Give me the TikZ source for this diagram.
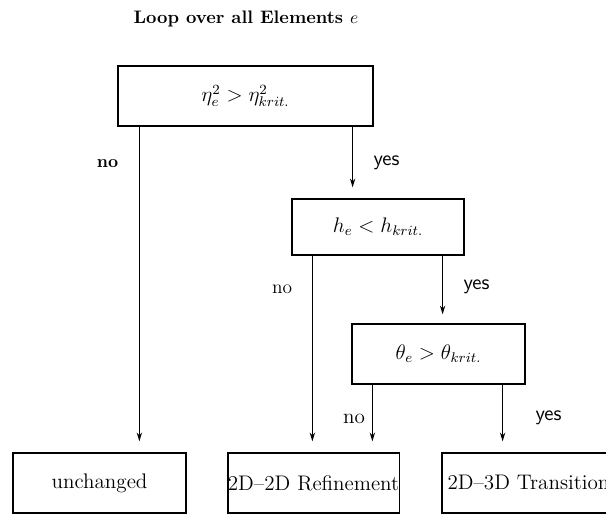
\documentclass[tikz,border=0pt]{standalone}
\usepackage{tikz}
\usetikzlibrary{arrows.meta,positioning}

\begin{document}
\begin{tikzpicture}[
  every node/.style={font=\fontsize{12}{14}\selectfont},
  test/.style={draw,line width=0.7pt,inner sep=0pt,minimum width=3.46cm,minimum height=1.2cm},
  result/.style={draw,line width=0.7pt,inner sep=0pt,minimum width=3.46cm,minimum height=1.2cm},
  arr/.style={line width=0.7pt,-{Stealth[length=5pt,width=3pt]},shorten >=0.22cm},
  lbl/.style={inner sep=0pt}
]
\useasboundingbox (0,0) rectangle (12.12,-10.28);
% Title
\node[font=\fontsize{10.3}{12}\selectfont\bfseries] (title) at (4.92,-0.38) {Loop over all Elements $e$};
% Decisions
\node[test,minimum width=5.1cm] (c1) at (4.91,-1.92) {$\eta_e^2 > \eta_{krit.}^2$};
\node[test,minimum width=3.44cm,minimum height=1.12cm] (c2) at (7.56,-4.54) {$h_e < h_{krit.}$};
\node[test] (c3) at (8.77,-7.08) {$\theta_e > \theta_{krit.}$};
% Results
\node[result] (r1) at (1.99,-9.66) {unchanged};
\node[result,minimum width=3.38cm] (r2) at (6.27,-9.66) {2D--2D Refinement};
\node[result] (r3) at (10.57,-9.66) {2D--3D Transition};
% Branches
\draw[arr] ([xshift=0.44cm]c1.south west) coordinate (n1) -- (n1 |- r1.north);
\draw[arr] ([xshift=-0.42cm]c1.south east) coordinate (y1) -- (y1 |- c2.north);
\draw[arr] ([xshift=0.42cm]c2.south west) coordinate (n2) -- (n2 |- r2.north);
\draw[arr,shorten >=0.18cm] ([xshift=-0.44cm]c2.south east) coordinate (y2) -- (y2 |- c3.north);
\draw[arr] ([xshift=0.42cm]c3.south west) coordinate (n3) -- (n3 |- r2.north);
\draw[arr] ([xshift=-0.46cm]c3.south east) coordinate (y3) -- (y3 |- r3.north);
% Labels
\node[lbl,font=\fontsize{10}{12}\selectfont\bfseries] (ln1) at (2.15,-3.28) {no};
\node[lbl,font=\fontsize{12}{14}\selectfont\sffamily] (ly1) at (7.73,-3.26) {yes};
\node[lbl,font=\fontsize{11}{13}\selectfont] (ln2) at (5.64,-5.78) {no};
\node[lbl,font=\fontsize{12}{14}\selectfont\sffamily] (ly2) at (9.53,-5.74) {yes};
\node[lbl] (ln3) at (7.08,-8.38) {no};
\node[lbl,font=\fontsize{12}{14}\selectfont\sffamily] (ly3) at (10.97,-8.36) {yes};
\end{tikzpicture}
\end{document}
